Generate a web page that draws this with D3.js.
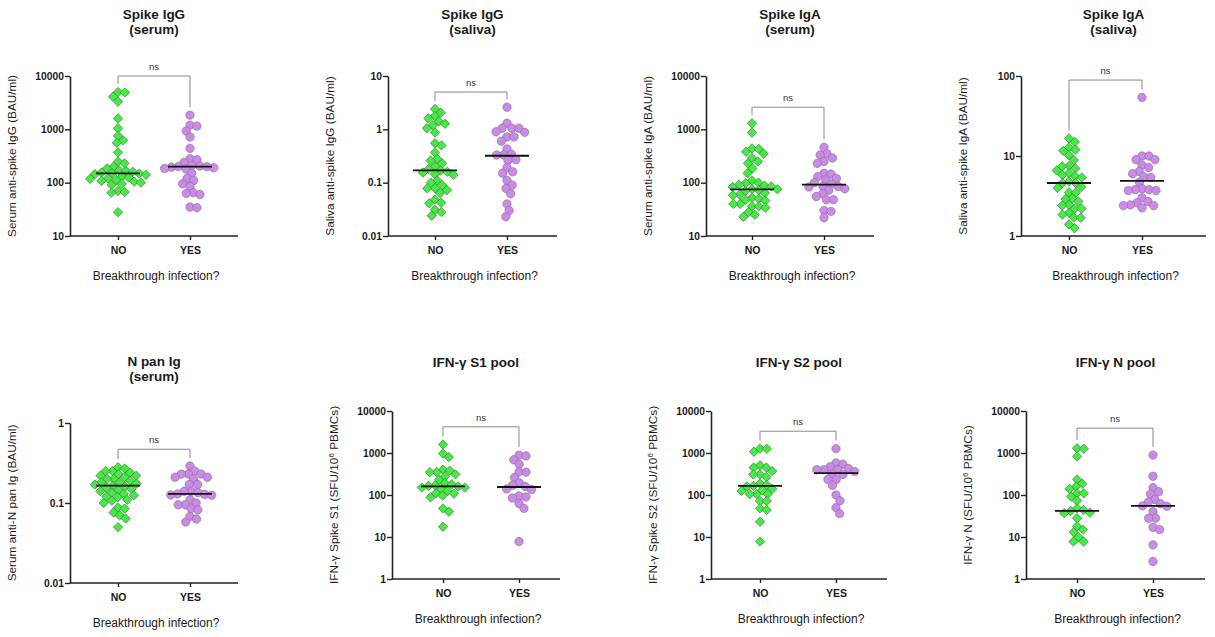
<!DOCTYPE html>
<html><head><meta charset="utf-8">
<script src="https://cdn.jsdelivr.net/npm/d3@7/dist/d3.min.js"></script>
<style>
body{margin:0;background:#fff;}
svg{display:block;font-family:"Liberation Sans",Arial,sans-serif;}
</style></head>
<body><svg id="chart" width="1215" height="637"></svg>
<script>
const categories = ["NO", "YES"];
const xTitle = "Breakthrough infection?";
const titles = [["Spike IgG","(serum)"],["Spike IgG","(saliva)"],["Spike IgA","(serum)"],["Spike IgA","(saliva)"],
  ["N pan Ig","(serum)"],["IFN-γ S1 pool"],["IFN-γ S2 pool"],["IFN-γ N pool"]];
const yLabels = [["Serum anti-spike IgG (BAU/ml)"],["Saliva anti-spike IgG (BAU/ml)"],["Serum anti-spike IgA (BAU/ml)"],
  ["Saliva anti-spike IgA (BAU/ml)"],["Serum anti-N pan Ig (BAU/ml)"],
  ["IFN-γ Spike S1 (SFU/10","6"," PBMCs)"],["IFN-γ Spike S2 (SFU/10","6"," PBMCs)"],["IFN-γ N (SFU/10","6"," PBMCs)"]];
const yDomains = [[10,10000],[0.01,10],[10,10000],[1,100],[0.01,1],[1,10000],[1,10000],[1,10000]];
const yTicks = [[10,100,1000,10000],[0.01,0.1,1,10],[10,100,1000,10000],[1,10,100],[0.01,0.1,1],
  [1,10,100,1000,10000],[1,10,100,1000,10000],[1,10,100,1000,10000]];
const sigLabels = ["ns","ns","ns","ns","ns","ns","ns","ns"];
const bracketLevels = [10000, 5, 2600, 89, 0.47, 4200, 3300, 3900];
const mediansNO  = [150, 0.17, 75, 4.6, 0.165, 160, 165, 42];
const mediansYES = [200, 0.32, 92, 4.9, 0.13, 155, 330, 55];

const igGSerumNO = [5000,4900,4100,3300,1600,1050,750,620,560,370,250,230,200,185,170,165,160,155,150,148,145,140,130,125,120,118,112,108,105,100,95,90,70,67,65,28];
const igGSerumYES = [1850,1200,1150,930,720,440,280,270,240,210,205,200,200,195,190,185,180,150,120,110,95,85,65,63,60,35,34];
const igGSalivaNO = [2.4,2.05,1.78,1.6,1.4,1.27,1.2,1.05,0.87,0.55,0.5,0.37,0.28,0.26,0.23,0.2,0.18,0.17,0.16,0.155,0.145,0.14,0.11,0.1,0.09,0.078,0.078,0.073,0.064,0.048,0.042,0.041,0.031,0.028,0.024];
const igGSalivaYES = [2.6,1.3,1.05,1.05,1.05,0.9,0.88,0.72,0.72,0.6,0.43,0.34,0.33,0.33,0.27,0.26,0.19,0.16,0.15,0.11,0.09,0.078,0.062,0.04,0.03,0.023];
const igASerumNO = [1300,870,440,430,380,350,290,250,230,185,150,110,100,98,92,88,85,83,76,75,72,70,64,60,58,52,50,48,46,40,40,36,36,34,28,25,23];
const igASerumYES = [460,350,330,290,250,230,150,145,130,120,112,100,95,85,85,83,77,72,62,55,48,48,30,29,22];
const igASalivaNO = [16.6,15,12.8,12,11.6,10.2,8.9,7.5,7.4,7,6.6,6.1,5.8,5.6,5.4,4.8,4.6,4.6,4.1,4,3.5,3.5,2.95,2.9,2.7,2.45,2.4,2.2,2.2,1.95,1.85,1.7,1.7,1.4,1.25];
const igASalivaYES = [54,10,10,9,9,7.7,7.2,6.4,6,5.5,5.4,4.7,3.9,3.8,3.8,3.7,3.7,3,2.7,2.6,2.45,2.4,2.4,2.25];
const nPanNO = [0.28,0.27,0.25,0.25,0.24,0.23,0.22,0.22,0.21,0.2,0.2,0.19,0.18,0.18,0.175,0.17,0.165,0.16,0.155,0.15,0.145,0.14,0.135,0.13,0.125,0.12,0.118,0.11,0.107,0.1,0.088,0.085,0.076,0.07,0.064,0.05];
const nPanYES = [0.29,0.25,0.23,0.23,0.23,0.21,0.21,0.2,0.17,0.17,0.14,0.14,0.135,0.13,0.126,0.125,0.128,0.11,0.1,0.095,0.095,0.085,0.082,0.068,0.063,0.058];
const s1NO = [1600,970,800,400,380,350,350,310,280,230,190,180,170,165,160,150,150,140,125,110,108,97,88,48,40,17.5];
const s1YES = [890,850,690,540,350,350,260,195,170,160,140,135,95,90,85,63,48,7.8];
const s2NO = [1270,1270,1070,510,450,450,370,310,310,270,185,175,165,160,140,130,125,105,105,105,72,72,48,44,23,7.8];
const s2YES = [1270,580,540,470,430,400,400,400,360,320,310,235,235,170,100,73,50,36];
const nPoolNO = [1300,1260,830,235,185,160,140,110,110,92,73,48,44,42,38,37,28,18,15,13,10,7.8,7.8];
const nPoolYES = [890,280,150,120,105,78,68,62,55,54,40,28,28,17,15,6.5,2.6];

const seriesNO = [igGSerumNO, igGSalivaNO, igASerumNO, igASalivaNO, nPanNO, s1NO, s2NO, nPoolNO];
const seriesYES = [igGSerumYES, igGSalivaYES, igASerumYES, igASalivaYES, nPanYES, s1YES, s2YES, nPoolYES];

// layout (pixels)
const layout = [
  {ax:70,  x0:48, x1:120, xe:238,  top:76,  bottom:236, titleY:18.5},
  {ax:388, x0:47, x1:119, xe:557,  top:76,  bottom:236, titleY:18.5},
  {ax:706, x0:46, x1:118, xe:874,  top:76,  bottom:236, titleY:18.5},
  {ax:1021,x0:48, x1:121, xe:1206, top:76,  bottom:236, titleY:18.5},
  {ax:70,  x0:48, x1:120, xe:238,  top:423, bottom:583, titleY:366},
  {ax:392, x0:51, x1:127, xe:560,  top:411, bottom:579, titleY:366.5},
  {ax:711, x0:49, x1:125, xe:887,  top:411, bottom:579, titleY:366.5},
  {ax:1026,x0:51, x1:127, xe:1205, top:411, bottom:579, titleY:366.5}
];

const GREEN = "#3fee3f", PURPLE = "#cc88ea";
const svg = d3.select("#chart");

function swarm(values, y, d) {
  const pts = values.map(v => ({v, y: y(v), x: 0})).sort((a, b) => a.y - b.y);
  const placed = [];
  pts.forEach(p => {
    const iv = [];
    placed.forEach(q => {
      const dy = Math.abs(q.y - p.y);
      if (dy < d) { const dx = Math.sqrt(d * d - dy * dy); iv.push([q.x - dx, q.x + dx]); }
    });
    const cands = [0];
    iv.forEach(([a, b]) => cands.push(a, b));
    cands.sort((a, b) => Math.abs(a) - Math.abs(b) || b - a);
    for (const c of cands) {
      if (iv.every(([a, b]) => c <= a + 1e-6 || c >= b - 1e-6)) { p.x = c; break; }
    }
    placed.push(p);
  });
  return pts;
}

const tickFmt = d => d >= 1 ? d3.format("d")(d) : String(d);

layout.forEach((L, i) => {
  const g = svg.append("g");
  const y = d3.scaleLog().domain(yDomains[i]).range([L.bottom, L.top]);
  const x = d3.scalePoint().domain(categories).range([L.ax + L.x0, L.ax + L.x1]);
  const cx = (L.ax + L.xe) / 2;

  // title
  titles[i].forEach((t, k) => {
    g.append("text").attr("x", cx).attr("y", L.titleY + k * 15).attr("text-anchor", "middle")
      .attr("font-size", 13.5).attr("font-weight", "bold").attr("fill", "#1a1a1a").text(t);
  });

  // y axis
  const ya = g.append("g").attr("transform", `translate(${L.ax},0)`)
    .call(d3.axisLeft(y).tickValues(yTicks[i]).tickFormat(tickFmt).tickSize(5).tickSizeOuter(0));
  ya.select(".domain").attr("stroke", "#222").attr("stroke-width", 1.6);
  ya.selectAll(".tick line").attr("stroke", "#222").attr("stroke-width", 1.4);
  ya.selectAll(".tick text").attr("font-size", 10.3).attr("font-weight", "bold").attr("fill", "#1a1a1a")
    .attr("font-family", "Liberation Sans, Arial, sans-serif").attr("x", -6);

  // x axis
  g.append("line").attr("x1", L.ax).attr("x2", L.xe).attr("y1", L.bottom).attr("y2", L.bottom)
    .attr("stroke", "#222").attr("stroke-width", 1.6);
  const xa = g.append("g").attr("transform", `translate(0,${L.bottom})`)
    .call(d3.axisBottom(x).tickSize(4).tickSizeOuter(0));
  xa.select(".domain").remove();
  xa.selectAll(".tick line").attr("stroke", "#222").attr("stroke-width", 1.4);
  xa.selectAll(".tick text").attr("font-size", 10.5).attr("font-weight", "bold").attr("fill", "#1a1a1a")
    .attr("font-family", "Liberation Sans, Arial, sans-serif").attr("dy", 0).attr("y", 18);

  g.append("text").attr("x", cx + 2).attr("y", L.bottom + 44).attr("text-anchor", "middle")
    .attr("font-size", 12).attr("fill", "#1a1a1a").text(xTitle);

  // y label
  const yl = g.append("text").attr("transform", `translate(${L.ax - 54},${(L.top + L.bottom) / 2}) rotate(-90)`)
    .attr("text-anchor", "middle").attr("font-size", 11.8).attr("fill", "#1a1a1a");
  const parts = yLabels[i];
  yl.append("tspan").text(parts[0]);
  if (parts.length > 1) {
    yl.append("tspan").attr("dy", -4.5).attr("font-size", 8).text(parts[1]);
    yl.append("tspan").attr("dy", 4.5).text(parts[2]);
  }

  // points
  const noPts = swarm(seriesNO[i], y, 6.8);
  const yesPts = swarm(seriesYES[i], y, 7);
  g.append("g").selectAll("path").data(noPts).join("path")
    .attr("d", d => { const X = x("NO") + d.x, Y = d.y, r = 4.7; return `M${X},${Y - r}L${X + r},${Y}L${X},${Y + r}L${X - r},${Y}Z`; })
    .attr("fill", GREEN).attr("stroke", "#555").attr("stroke-width", 0.6);
  g.append("g").selectAll("circle").data(yesPts).join("circle")
    .attr("cx", d => x("YES") + d.x).attr("cy", d => d.y).attr("r", 4.2)
    .attr("fill", PURPLE).attr("stroke", "#777").attr("stroke-width", 0.6);

  // medians
  [["NO", mediansNO[i]], ["YES", mediansYES[i]]].forEach(([c, m]) => {
    g.append("line").attr("x1", x(c) - 22).attr("x2", x(c) + 22).attr("y1", y(m)).attr("y2", y(m))
      .attr("stroke", "#111").attr("stroke-width", 1.8);
  });

  // significance bracket
  const by = y(bracketLevels[i]);
  const legNO = y(d3.max(seriesNO[i])) - 8, legYES = y(d3.max(seriesYES[i])) - 8;
  g.append("path").attr("d", `M${x("NO")},${Math.max(legNO, by)}V${by}H${x("YES")}V${Math.max(legYES, by)}`)
    .attr("fill", "none").attr("stroke", "#888").attr("stroke-width", 1);
  g.append("text").attr("x", (x("NO") + x("YES")) / 2).attr("y", by - 6).attr("text-anchor", "middle")
    .attr("font-size", 9.5).attr("fill", "#333").text(sigLabels[i]);
});
</script></body></html>
